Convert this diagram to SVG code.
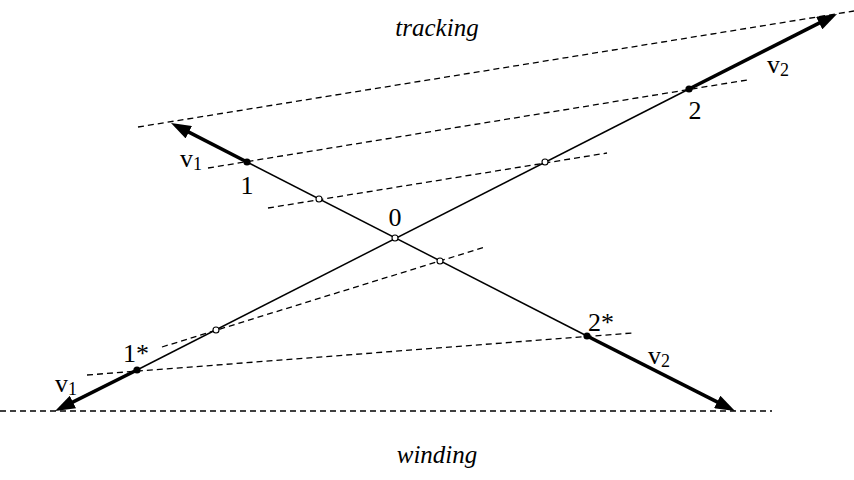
<svg xmlns="http://www.w3.org/2000/svg" width="854" height="480" viewBox="0 0 854 480">
<style>
.thin{stroke:#000;stroke-width:1.5;fill:none}
.thick{stroke:#000;stroke-width:3.6;fill:none;marker-end:url(#ah)}
.dash{stroke:#000;stroke-width:1.3;fill:none;stroke-dasharray:6 4}
.dot{fill:#000}
.ring{fill:#fff;stroke:#000;stroke-width:1.1}
.lbl{font-family:"Liberation Serif",serif;font-size:26px;fill:#000}
.sub{font-size:18px}
.it{font-family:"Liberation Serif",serif;font-size:25px;font-style:italic;fill:#000}
</style>
<defs>
<marker id="ah" markerUnits="userSpaceOnUse" markerWidth="20" markerHeight="14" viewBox="0 0 20 14" refX="12" refY="7" orient="auto">
<path d="M0,0 L20,7 L0,14 z" fill="#000"/>
</marker>
</defs>
<rect width="854" height="480" fill="#fff"/>
<g id="connectors">
<line class="dash" x1="138" y1="127" x2="854" y2="11"/>
<line class="dash" x1="208" y1="168" x2="747" y2="80"/>
<line class="dash" x1="268" y1="208" x2="607" y2="153"/>
<line class="dash" x1="162" y1="347" x2="485" y2="247"/>
<line class="dash" x1="87" y1="375" x2="632" y2="333"/>
<line class="dash" x1="0" y1="411" x2="772" y2="411"/>
<line class="thin" x1="247" y1="162" x2="587" y2="336"/>
<line class="thin" x1="137" y1="370" x2="689" y2="89"/>
<line class="thick" x1="247" y1="162" x2="178.1" y2="126.7"/>
<line class="thick" x1="689" y1="89" x2="829.9" y2="17.6"/>
<line class="thick" x1="137" y1="370" x2="62.2" y2="407.4"/>
<line class="thick" x1="587" y1="336" x2="727.9" y2="407.4"/>
</g>
<g id="node-1"><circle class="dot" cx="247" cy="162" r="3.6"/><text class="lbl" x="247" y="194" text-anchor="middle">1</text></g>
<g id="node-2"><circle class="dot" cx="689" cy="89" r="3.6"/><text class="lbl" x="695" y="119" text-anchor="middle">2</text></g>
<g id="node-1s"><circle class="dot" cx="137" cy="370" r="3.6"/><text class="lbl" x="123" y="362">1*</text></g>
<g id="node-2s"><circle class="dot" cx="587" cy="336" r="3.6"/><text class="lbl" x="588" y="331">2*</text></g>
<g id="node-0"><circle class="ring" cx="395" cy="238" r="3"/><text class="lbl" x="395" y="226" text-anchor="middle">0</text></g>
<g id="node-a"><circle class="ring" cx="319" cy="199" r="3"/></g>
<g id="node-b"><circle class="ring" cx="545" cy="162" r="3"/></g>
<g id="node-c"><circle class="ring" cx="216" cy="330" r="3"/></g>
<g id="node-d"><circle class="ring" cx="440" cy="261" r="3"/></g>
<g id="label-v1-top"><text class="lbl" x="180" y="167">v<tspan class="sub" dy="3">1</tspan></text></g>
<g id="label-v2-top"><text class="lbl" x="767" y="73">v<tspan class="sub" dy="3">2</tspan></text></g>
<g id="label-v1-bottom"><text class="lbl" x="55" y="392">v<tspan class="sub" dy="3">1</tspan></text></g>
<g id="label-v2-bottom"><text class="lbl" x="648" y="364">v<tspan class="sub" dy="3">2</tspan></text></g>
<g id="label-tracking"><text class="it" x="437" y="36" text-anchor="middle">tracking</text></g>
<g id="label-winding"><text class="it" x="437" y="463" text-anchor="middle">winding</text></g>
</svg>
